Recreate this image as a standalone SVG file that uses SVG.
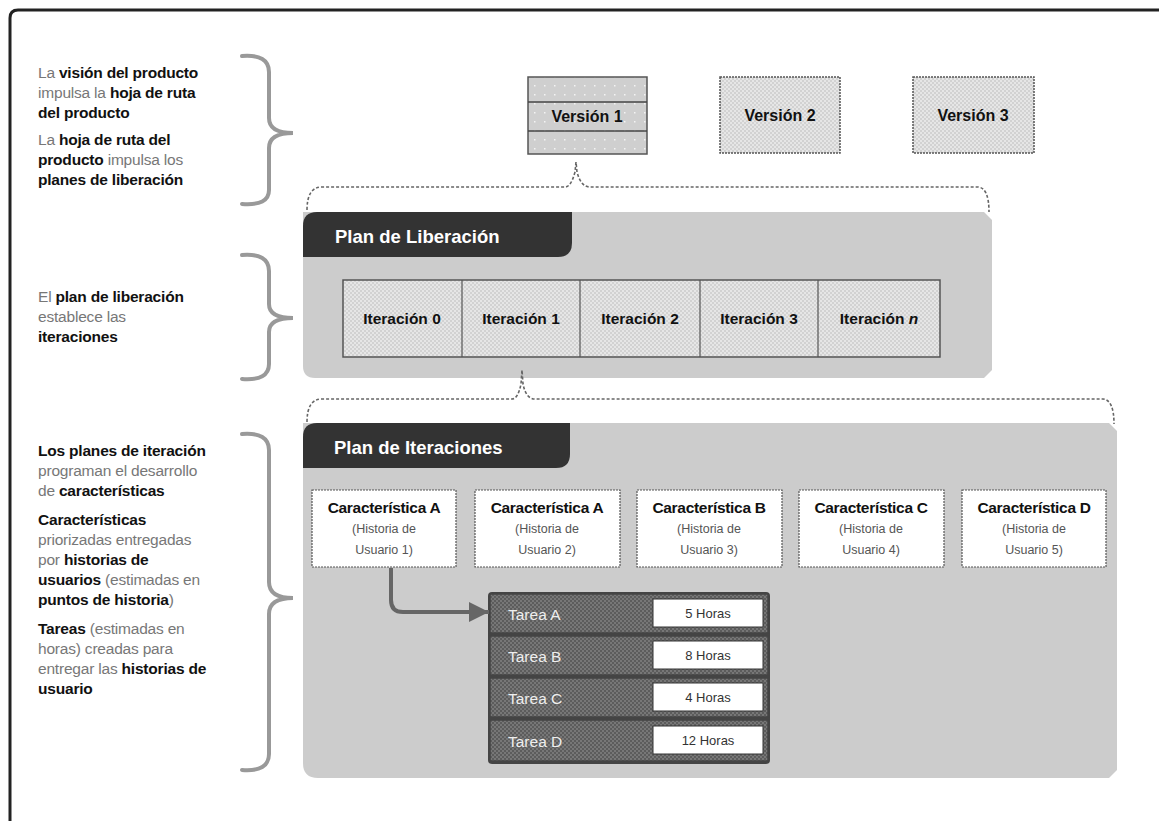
<svg xmlns="http://www.w3.org/2000/svg" width="1159" height="821" viewBox="0 0 1159 821">
<defs>
<pattern id="chk" width="4" height="4" patternUnits="userSpaceOnUse">
<rect width="4" height="4" fill="#d2d2d2"/>
<rect width="2" height="2" fill="#e6e6e6"/>
<rect x="2" y="2" width="2" height="2" fill="#e6e6e6"/>
</pattern>
<pattern id="dots" width="10" height="9" patternUnits="userSpaceOnUse">
<rect width="10" height="9" fill="#cfcfcf"/>
<rect x="4" y="4" width="1.5" height="1.5" fill="#f4f4f4"/>
</pattern>
<pattern id="dark" width="4" height="4" patternUnits="userSpaceOnUse">
<rect width="4" height="4" fill="#5c5c5c"/>
<rect width="2" height="2" fill="#777"/>
<rect x="2" y="2" width="2" height="2" fill="#777"/>
</pattern>
<marker id="ah" viewBox="0 0 10 10" refX="10" refY="5" markerWidth="5" markerHeight="5" orient="auto" markerUnits="strokeWidth">
<path d="M0,0 L10,5 L0,10 Z" fill="#666"/>
</marker>
<style>
text{font-family:"Liberation Sans",Arial,sans-serif;}
.lt{font-size:15.5px;fill:#777;letter-spacing:-0.2px;}
.lt tspan.b{font-weight:bold;fill:#111;}
.brace{fill:none;stroke:#999;stroke-width:4;stroke-linecap:round;}
.bracket{fill:none;stroke:#666;stroke-width:1.6;stroke-dasharray:3 2;}
.panel{fill:#cccccc;}
.tab{fill:#333;}
.tabt{font-size:18.5px;font-weight:bold;fill:#fff;}
.ver{stroke:#555;stroke-width:1.5;}
.vt{font-size:16px;font-weight:bold;fill:#111;text-anchor:middle;}
.it{font-size:15.5px;fill:#111;text-anchor:middle;font-weight:bold;}
.fb{fill:#fff;stroke:#555;stroke-width:1.2;stroke-dasharray:2 1;}
.ft{font-size:15.5px;font-weight:bold;fill:#111;text-anchor:middle;letter-spacing:-0.3px;}
.fs{font-size:12.5px;fill:#555;text-anchor:middle;}
.tr{fill:url(#dark);stroke:#444;stroke-width:1.5;}
.tt{font-size:15.5px;fill:#eee;}
.hb{fill:#fff;stroke:#333;stroke-width:1;}
.ht{font-size:13px;fill:#333;text-anchor:middle;}
</style>
</defs>
<rect width="1159" height="821" fill="#fff"/>
<!-- frame -->
<path d="M10,821 L10,18 Q10,10 18,10 L1159,10" fill="none" stroke="#222" stroke-width="3"/>

<!-- left annotations -->
<g id="note1">
<text class="lt" x="38" y="78"><tspan>La </tspan><tspan class="b">visión del producto</tspan></text>
<text class="lt" x="38" y="98"><tspan>impulsa la </tspan><tspan class="b">hoja de ruta</tspan></text>
<text class="lt" x="38" y="118"><tspan class="b">del producto</tspan></text>
<text class="lt" x="38" y="145"><tspan>La </tspan><tspan class="b">hoja de ruta del</tspan></text>
<text class="lt" x="38" y="165"><tspan class="b">producto</tspan><tspan> impulsa los</tspan></text>
<text class="lt" x="38" y="185"><tspan class="b">planes de liberación</tspan></text>
<path class="brace" d="M242,56 Q269,54 269,72 L269,118 Q269,133 293,133 Q269,133 269,148 L269,190 Q269,206 242,204"/>
</g>
<g id="note2">
<text class="lt" x="38" y="302"><tspan>El </tspan><tspan class="b">plan de liberación</tspan></text>
<text class="lt" x="38" y="322"><tspan>establece las</tspan></text>
<text class="lt" x="38" y="342"><tspan class="b">iteraciones</tspan></text>
<path class="brace" d="M242,255 Q269,253 269,271 L269,304 Q269,318 293,318 Q269,318 269,332 L269,364 Q269,381 242,379"/>
</g>
<g id="note3">
<text class="lt" x="38" y="456"><tspan class="b">Los planes de iteración</tspan></text>
<text class="lt" x="38" y="476"><tspan>programan el desarrollo</tspan></text>
<text class="lt" x="38" y="496"><tspan>de </tspan><tspan class="b">características</tspan></text>
<text class="lt" x="38" y="525"><tspan class="b">Características</tspan></text>
<text class="lt" x="38" y="545"><tspan>priorizadas entregadas</tspan></text>
<text class="lt" x="38" y="565"><tspan>por </tspan><tspan class="b">historias de</tspan></text>
<text class="lt" x="38" y="585"><tspan class="b">usuarios</tspan><tspan> (estimadas en</tspan></text>
<text class="lt" x="38" y="605"><tspan class="b">puntos de historia</tspan><tspan>)</tspan></text>
<text class="lt" x="38" y="634"><tspan class="b">Tareas</tspan><tspan> (estimadas en</tspan></text>
<text class="lt" x="38" y="654"><tspan>horas) creadas para</tspan></text>
<text class="lt" x="38" y="674"><tspan>entregar las </tspan><tspan class="b">historias de</tspan></text>
<text class="lt" x="38" y="694"><tspan class="b">usuario</tspan></text>
<path class="brace" d="M242,434 Q269,432 269,450 L269,582 Q269,598 293,598 Q269,598 269,614 L269,754 Q269,772 242,770"/>
</g>

<!-- versions -->
<g id="version1">
<rect x="528" y="77" width="119" height="77" fill="url(#dots)" class="ver"/>
<line x1="528" y1="102" x2="647" y2="102" stroke="#444" stroke-width="1.5"/>
<line x1="528" y1="131" x2="647" y2="131" stroke="#444" stroke-width="1.5"/>
<text class="vt" x="587" y="122">Versión 1</text>
</g>
<g id="version2">
<rect x="720" y="77" width="120" height="76" fill="url(#chk)" class="ver" stroke-dasharray="2 1"/>
<text class="vt" x="780" y="121">Versión 2</text>
</g>
<g id="version3">
<rect x="913" y="77" width="121" height="76" fill="url(#chk)" class="ver" stroke-dasharray="2 1"/>
<text class="vt" x="973" y="121">Versión 3</text>
</g>

<!-- release plan -->
<g id="plan-liberacion">
<path class="panel" d="M303,212 L984,212 L992,220 L992,370 L984,378 L315,378 Q303,378 303,366 Z"/>
<path class="tab" d="M303,257 L303,226 Q303,212 317,212 L572,212 L572,243 Q572,257 558,257 Z"/>
<text class="tabt" x="335" y="243">Plan de Liberación</text>
</g>
<g id="iteraciones">
<rect x="343" y="280" width="597" height="77" fill="url(#chk)" stroke="#555" stroke-width="1.5"/>
<line x1="462" y1="280" x2="462" y2="357" stroke="#555" stroke-width="1.2"/>
<line x1="580" y1="280" x2="580" y2="357" stroke="#555" stroke-width="1.2"/>
<line x1="700" y1="280" x2="700" y2="357" stroke="#555" stroke-width="1.2"/>
<line x1="818" y1="280" x2="818" y2="357" stroke="#555" stroke-width="1.2"/>
<text class="it" x="402" y="324">Iteración 0</text>
<text class="it" x="521" y="324">Iteración 1</text>
<text class="it" x="640" y="324">Iteración 2</text>
<text class="it" x="759" y="324">Iteración 3</text>
<text class="it" x="879" y="324">Iteración <tspan font-style="italic">n</tspan></text>
</g>

<!-- iteration plan -->
<g id="plan-iteraciones">
<path class="panel" d="M303,423 L1109,423 L1117,431 L1117,770 L1109,778 L318,778 Q303,778 303,763 Z"/>
<path class="tab" d="M303,468 L303,437 Q303,423 317,423 L570,423 L570,454 Q570,468 556,468 Z"/>
<text class="tabt" x="334" y="454">Plan de Iteraciones</text>
</g>
<g id="feature1">
<rect class="fb" x="312" y="490" width="144" height="77"/>
<text class="ft" x="384" y="513">Característica A</text>
<text class="fs" x="384" y="533">(Historia de</text>
<text class="fs" x="384" y="554">Usuario 1)</text>
</g>
<g id="feature2">
<rect class="fb" x="475" y="490" width="145" height="77"/>
<text class="ft" x="547" y="513">Característica A</text>
<text class="fs" x="547" y="533">(Historia de</text>
<text class="fs" x="547" y="554">Usuario 2)</text>
</g>
<g id="feature3">
<rect class="fb" x="637" y="490" width="145" height="77"/>
<text class="ft" x="709" y="513">Característica B</text>
<text class="fs" x="709" y="533">(Historia de</text>
<text class="fs" x="709" y="554">Usuario 3)</text>
</g>
<g id="feature4">
<rect class="fb" x="799" y="490" width="145" height="77"/>
<text class="ft" x="871" y="513">Característica C</text>
<text class="fs" x="871" y="533">(Historia de</text>
<text class="fs" x="871" y="554">Usuario 4)</text>
</g>
<g id="feature5">
<rect class="fb" x="962" y="490" width="144" height="77"/>
<text class="ft" x="1034" y="513">Característica D</text>
<text class="fs" x="1034" y="533">(Historia de</text>
<text class="fs" x="1034" y="554">Usuario 5)</text>
</g>

<!-- tasks -->
<g id="tareas">
<rect x="488" y="592" width="282" height="172" rx="4" fill="#444"/>
<rect class="tr" x="490" y="594" width="278" height="39"/>
<rect class="tr" x="490" y="636" width="278" height="39"/>
<rect class="tr" x="490" y="678" width="278" height="39"/>
<rect class="tr" x="490" y="720" width="278" height="41"/>
<text class="tt" x="508" y="620">Tarea A</text>
<text class="tt" x="508" y="662">Tarea B</text>
<text class="tt" x="508" y="704">Tarea C</text>
<text class="tt" x="508" y="747">Tarea D</text>
<rect class="hb" x="653" y="599" width="110" height="28"/>
<rect class="hb" x="653" y="641" width="110" height="28"/>
<rect class="hb" x="653" y="683" width="110" height="28"/>
<rect class="hb" x="653" y="726" width="110" height="28"/>
<text class="ht" x="708" y="618">5 Horas</text>
<text class="ht" x="708" y="660">8 Horas</text>
<text class="ht" x="708" y="702">4 Horas</text>
<text class="ht" x="708" y="745">12 Horas</text>
</g>

<!-- connectors -->
<g id="connectors">
<path class="bracket" d="M307,210 Q307,187 322,187 L565,187 Q571,187 575,172 L576,162 L577,172 Q581,187 590,187 L978,187 Q989,188 989,212"/>
<path class="bracket" d="M307,422 Q307,399 322,399 L512,399 Q518,399 521,384 L522,370 L523,384 Q526,399 535,399 L1103,399 Q1114,400 1114,424"/>
<path d="M391,568 L391,600 Q391,612 403,612 L489,612" fill="none" stroke="#666" stroke-width="4" marker-end="url(#ah)"/>
</g>
</svg>
